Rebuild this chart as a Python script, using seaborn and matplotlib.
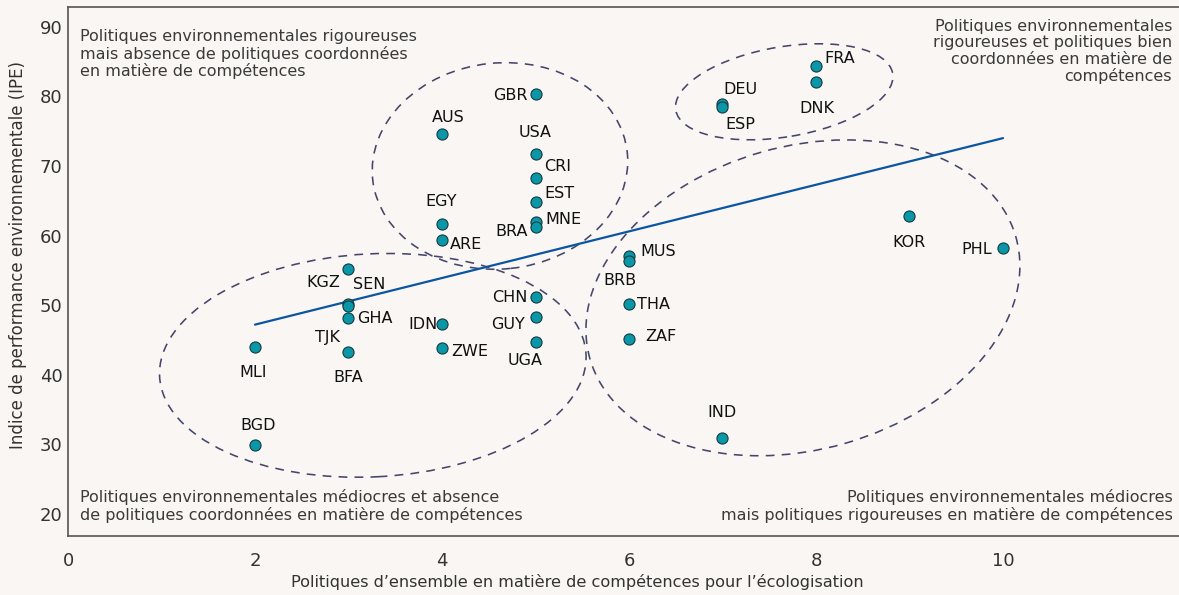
import numpy as np
import pandas as pd
import matplotlib
matplotlib.use("Agg")
import matplotlib.pyplot as plt
import matplotlib.transforms as mtransforms
from matplotlib.patches import Ellipse
import seaborn as sns

# ---------------- data ----------------
codes = ["BGD", "MLI", "KGZ", "SEN", "TJK", "GHA", "BFA",
         "EGY", "ARE", "AUS", "IDN", "ZWE",
         "GBR", "USA", "CRI", "EST", "MNE", "BRA", "CHN", "GUY", "UGA",
         "MUS", "BRB", "THA", "ZAF",
         "IND", "DEU", "ESP", "FRA", "DNK", "KOR", "PHL"]
skills_score = [2, 2, 3, 3, 3, 3, 3,
                4, 4, 4, 4, 4,
                5, 5, 5, 5, 5, 5, 5, 5, 5,
                6, 6, 6, 6,
                7, 7, 7, 8, 8, 9, 10]
epi_score = [29.9, 44.0, 55.2, 50.1, 49.9, 48.2, 43.2,
             61.7, 59.3, 74.6, 47.3, 43.8,
             80.4, 71.7, 68.3, 64.8, 61.9, 61.2, 51.1, 48.3, 44.7,
             57.1, 56.3, 50.2, 45.2,
             30.9, 78.9, 78.5, 84.4, 82.1, 62.8, 58.2]

trend_x = [2, 10]
trend_y = [47.2, 74.0]

x_ticks = [0, 2, 4, 6, 8, 10]
y_ticks = [20, 30, 40, 50, 60, 70, 80, 90]

x_label = "Politiques d\u2019ensemble en matière de compétences pour l\u2019écologisation"
y_label = "Indice de performance environnementale (IPE)"

quadrant_tl = "Politiques environnementales rigoureuses\nmais absence de politiques coordonnées\nen matière de compétences"
quadrant_tr = "Politiques environnementales\nrigoureuses et politiques bien\ncoordonnées en matière de\ncompétences"
quadrant_bl = "Politiques environnementales médiocres et absence\nde politiques coordonnées en matière de compétences"
quadrant_br = "Politiques environnementales médiocres\nmais politiques rigoureuses en matière de compétences"

# ---------------- layout / styling (not data) ----------------
label_offsets = {  # label centre offset in pixels (dx right, dy down)
    "BGD": (3, -20), "MLI": (-2, 26), "KGZ": (-25, 14), "SEN": (21, -20),
    "TJK": (-21, 32), "GHA": (26, 1), "BFA": (0, 25),
    "EGY": (-1, -22), "ARE": (24, 4), "AUS": (6, -16), "IDN": (-19, 1),
    "ZWE": (28, 3), "GBR": (-25, 2), "USA": (0, -22), "CRI": (22, -11),
    "EST": (24, -9), "MNE": (28, -3), "BRA": (-24, 4), "CHN": (-26, 0),
    "GUY": (-27, 8), "UGA": (-10, 18), "MUS": (29, -4), "BRB": (-9, 19),
    "THA": (25, 1), "ZAF": (32, -2), "IND": (0, -26), "KOR": (0, 26),
    "PHL": (-26, 1), "DEU": (18, -15), "ESP": (18, 18), "FRA": (24, -7),
    "DNK": (1, 27),
}
# (centre_x, centre_y in data units, width px, height px, angle deg)
ellipses = [
    (4.62, 70.0, 256, 206, 6),
    (7.66, 80.66, 220, 90, 9.6),
    (3.26, 41.35, 427, 223, 3),
    (7.86, 51.05, 443, 303, 16),
]

BG = "#f9f6f3"
TEAL = "#0a97a8"
LINE_BLUE = "#0b55a3"
DASH = "#44466a"

sns.set_theme(style="white")
plt.rcParams["font.family"] = ["DejaVu Sans"]

df = pd.DataFrame({"code": codes, "x": skills_score, "y": epi_score})
trend = pd.DataFrame({"x": trend_x, "y": trend_y})

fig = plt.figure(figsize=(11.79, 5.95), dpi=100, facecolor=BG)
ax = fig.add_axes([68 / 1179, 1 - 535.5 / 595, 1 - 68 / 1179, (535.5 - 7.3) / 595])
ax.set_facecolor(BG)
ax.set_xlim(0, 1111 / 93.5)
ax.set_ylim(16.9, 92.8)

for cx, cy, w, h, ang in ellipses:
    tr = fig.dpi_scale_trans + mtransforms.ScaledTranslation(cx, cy, ax.transData)
    e = Ellipse((0, 0), w / 100, h / 100, angle=ang, transform=tr,
                fill=False, edgecolor=DASH, linewidth=1.15,
                linestyle=(0, (5.5, 4.5)), zorder=1)
    ax.add_patch(e)

sns.lineplot(data=trend, x="x", y="y", ax=ax, color=LINE_BLUE, linewidth=1.6, zorder=2)
sns.scatterplot(data=df, x="x", y="y", ax=ax, color=TEAL, edgecolor="#173a40",
                linewidth=0.8, s=64, zorder=3)

for c, xv, yv in zip(codes, skills_score, epi_score):
    dx, dy = label_offsets[c]
    ax.annotate(c, (xv, yv), xytext=(dx, -dy), textcoords="offset pixels",
                ha="center", va="center", fontsize=11.5, color="#111111", zorder=4)

for s in ["left", "bottom", "top"]:
    ax.spines[s].set_color("#555555")
    ax.spines[s].set_linewidth(1.2)
ax.spines["right"].set_visible(False)
ax.set_xticks(x_ticks)
ax.set_yticks(y_ticks)
ax.tick_params(axis="both", length=0, labelsize=13, labelcolor="#333333")
ax.tick_params(axis="x", pad=12)
ax.tick_params(axis="y", pad=4)
ax.set_xlabel(x_label, fontsize=11.6, color="#333333")
ax.set_ylabel(y_label, fontsize=12, color="#333333")
ax.xaxis.set_label_coords((577 - 68) / 1111, -(582 - 535.5) / 528.2, transform=ax.transAxes)
ax.yaxis.set_label_coords(-(68 - 18) / 1111, (535.5 - 255) / 528.2, transform=ax.transAxes)
ax.xaxis.label.set_va("center")
ax.yaxis.label.set_va("center")

qkw = dict(fontsize=11.5, color="#3a3a3a", linespacing=1.12)
fig.text(80 / 1179, 1 - 29 / 595, quadrant_tl, ha="left", va="top", **qkw)
fig.text(1172 / 1179, 1 - 19 / 595, quadrant_tr, ha="right", va="top", multialignment="right", **qkw)
fig.text(80 / 1179, 1 - 523 / 595, quadrant_bl, ha="left", va="bottom", **qkw)
fig.text(1173 / 1179, 1 - 523 / 595, quadrant_br, ha="right", va="bottom", multialignment="right", **qkw)

fig.savefig("out.png", dpi=100, facecolor=BG)
